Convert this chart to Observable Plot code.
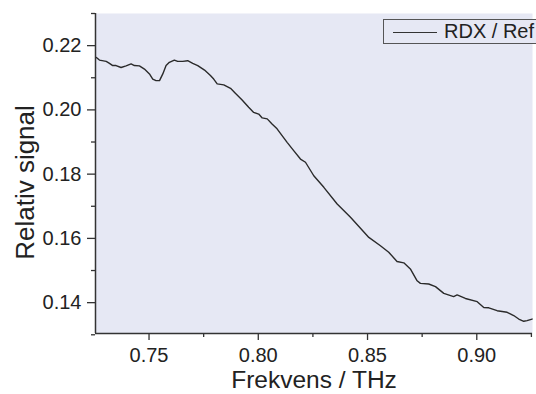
<!DOCTYPE html>
<html>
<head>
<meta charset="utf-8">
<script src="https://cdn.jsdelivr.net/npm/d3@7"></script>
<script src="https://cdn.jsdelivr.net/npm/@observablehq/plot@0.6"></script>
<style>
  html, body { margin: 0; padding: 0; background: #fff; overflow: hidden; }
  #wrap { position: relative; width: 536px; height: 394px; overflow: hidden; font-family: "Liberation Sans", Arial, sans-serif; }
  #legend { position: absolute; left: 383px; top: 19px; width: 170px; height: 23px; border: 1px solid #555; background: #E6E8F4; box-sizing: content-box; }
  #legend .ln { position: absolute; left: 9px; top: 12px; width: 44px; height: 0; border-top: 1.3px solid #333; }
  #legend .tx { position: absolute; left: 60px; top: 0px; line-height: 23px; font-size: 20px; color: #222; white-space: nowrap; }
</style>
</head>
<body>
<div id="wrap"></div>
<script>
// Data
const freq = [0.7259, 0.7273, 0.7304, 0.7319, 0.7334, 0.7349, 0.7372, 0.7395, 0.7418, 0.7433,
  0.7456, 0.7479, 0.7502, 0.7517, 0.7532, 0.7548, 0.7563, 0.7578, 0.7593, 0.7616,
  0.7631, 0.7654, 0.7677, 0.7700, 0.7723, 0.7754, 0.7781, 0.7796, 0.7812, 0.7842,
  0.7873, 0.7895, 0.7926, 0.7956, 0.7979, 0.8002, 0.8018, 0.8041, 0.8063, 0.8086,
  0.8109, 0.8132, 0.8162, 0.8193, 0.8216, 0.8254, 0.8300, 0.8361, 0.8422, 0.8506,
  0.8559, 0.8597, 0.8635, 0.8666, 0.8696, 0.8727, 0.8742, 0.8780, 0.8811, 0.8849,
  0.8894, 0.8910, 0.8948, 0.9002, 0.9032, 0.9055, 0.9093, 0.9139, 0.9169, 0.9192,
  0.9215, 0.9230, 0.9253];
const signal = [0.2163, 0.2155, 0.2151, 0.2145, 0.2138, 0.2138, 0.2132, 0.2137, 0.2143, 0.2138,
  0.2137, 0.2127, 0.2112, 0.2096, 0.2091, 0.2091, 0.2112, 0.2138, 0.2148, 0.2155,
  0.2151, 0.2151, 0.2153, 0.2145, 0.2138, 0.2124, 0.2107, 0.2096, 0.2081, 0.2078,
  0.2067, 0.2052, 0.2031, 0.2008, 0.1992, 0.1987, 0.1975, 0.1972, 0.1956, 0.1941,
  0.1920, 0.1899, 0.1873, 0.1847, 0.1837, 0.1795, 0.1759, 0.1707, 0.1666, 0.1603,
  0.1577, 0.1557, 0.1528, 0.1524, 0.1505, 0.1468, 0.1460, 0.1458, 0.1450, 0.1429,
  0.1419, 0.1424, 0.1413, 0.1403, 0.1385, 0.1384, 0.1375, 0.1370, 0.1360, 0.1349,
  0.1342, 0.1344, 0.1349];
const xMajorTicks = [0.75, 0.80, 0.85, 0.90];
const xMinorTicks = [0.775, 0.825, 0.875, 0.925];
const yMajorTicks = [0.14, 0.16, 0.18, 0.20, 0.22];
const yMinorTicks = [0.13, 0.15, 0.17, 0.19, 0.21, 0.23];
const xDomain = [0.7255, 0.9255];
const yDomain = [0.1304, 0.2300];
const xLabel = "Frekvens / THz";
const yLabel = "Relativ signal";
const seriesName = "RDX / Ref";

const data = freq.map((f, i) => ({f, s: signal[i]}));
const bg = "#E6E8F4";
const axisColor = "#333";

const chart = Plot.plot({
  width: 536,
  height: 394,
  marginLeft: 95,
  marginRight: 4,
  marginTop: 13,
  marginBottom: 61,
  x: {domain: xDomain},
  y: {domain: yDomain},
  style: {fontFamily: '"Liberation Sans", Arial, sans-serif', fontSize: "20px", color: "#222", background: "white", overflow: "visible"},
  marks: [
    Plot.frame({fill: bg, stroke: null}),
    Plot.line(data, {x: "f", y: "s", stroke: "#2a2a2a", strokeWidth: 1.4}),
    Plot.ruleX([xDomain[0]], {stroke: axisColor, strokeWidth: 1.5}),
    Plot.ruleY([yDomain[0]], {stroke: axisColor, strokeWidth: 1.5}),
    Plot.axisX(xMajorTicks, {tickSize: 7, tickPadding: 7, tickFormat: d3.format(".2f"), label: null, fontSize: 20, stroke: axisColor, strokeWidth: 1.3}),
    Plot.axisX(xMinorTicks, {tickSize: 4, tickFormat: () => "", label: null, stroke: axisColor, strokeWidth: 1.3}),
    Plot.axisY(yMajorTicks, {tickSize: 8, tickPadding: 6, tickFormat: d3.format(".2f"), label: null, fontSize: 20, stroke: axisColor, strokeWidth: 1.3}),
    Plot.axisY(yMinorTicks, {tickSize: 4, tickFormat: () => "", label: null, stroke: axisColor, strokeWidth: 1.3}),
    Plot.text([xLabel], {frameAnchor: "bottom", lineAnchor: "middle", textAnchor: "middle", dy: 47, fontSize: 24.5, fill: "#222"}),
    Plot.text([yLabel], {frameAnchor: "left", lineAnchor: "middle", textAnchor: "middle", dx: -70, dy: 9, rotate: -90, fontSize: 26, fill: "#222"})
  ]
});

const wrap = document.getElementById("wrap");
wrap.appendChild(chart);
const legend = document.createElement("div");
legend.id = "legend";
legend.innerHTML = '<div class="ln"></div><div class="tx"></div>';
legend.querySelector(".tx").textContent = seriesName;
wrap.appendChild(legend);
</script>
</body>
</html>
